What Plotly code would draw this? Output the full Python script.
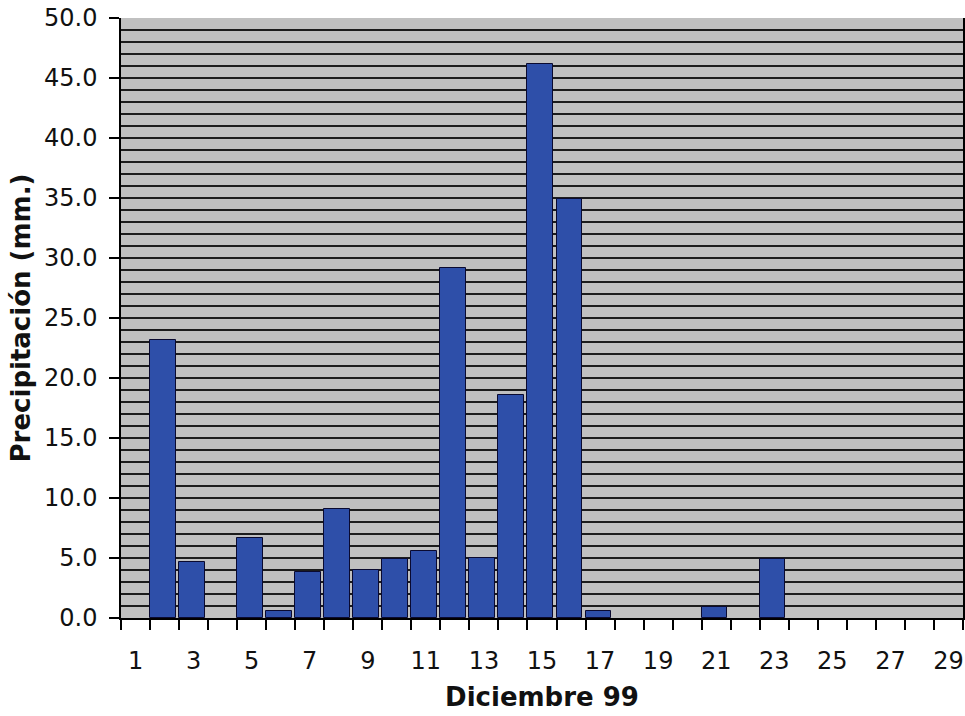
import plotly.graph_objects as go

# Daily rainfall, December 1999 (mm)
days = list(range(1, 30))
rain_mm = [0.0, 23.2, 4.7, 0.0, 6.7, 0.6, 3.8, 9.1, 4.0, 4.9,
           5.6, 29.2, 5.0, 18.6, 46.2, 34.9, 0.6, 0.0, 0.0, 0.0,
           0.9, 0.0, 4.9, 0.0, 0.0, 0.0, 0.0, 0.0, 0.0]
x_tick_days = list(range(1, 30, 2))
x_tick_labels = [str(d) for d in x_tick_days]
y_tick_vals = [0, 5, 10, 15, 20, 25, 30, 35, 40, 45, 50]

# dry days get no outline so nothing is drawn on the baseline
outline_widths = [1 if v > 0 else 0 for v in rain_mm]

fig = go.Figure(
    go.Bar(
        x=days,
        y=rain_mm,
        marker=dict(color="#2E4FA9", line=dict(color="#0a0a30", width=outline_widths)),
        width=0.88,
        offset=-0.5,
    )
)

tick_font = dict(family="DejaVu Sans", size=24, color="#111111")

fig.update_layout(
    width=965,
    height=716,
    margin=dict(l=121, r=2, t=18, b=98),
    paper_bgcolor="white",
    plot_bgcolor="#C0C0C0",
    showlegend=False,
    bargap=0,
)

fig.update_xaxes(
    range=[0.5, 29.5],
    tickmode="array",
    tickvals=x_tick_days,
    ticktext=x_tick_labels,
    ticks="outside",
    ticklen=10,
    tickcolor="rgba(0,0,0,0)",
    ticklabelstandoff=10,
    tickfont=tick_font,
    showgrid=False,
    zeroline=False,
    showline=True,
    linecolor="black",
    linewidth=1.5,
    minor=dict(ticks="outside", ticklen=10, tickcolor="black", tickwidth=1.5,
               tick0=0.5, dtick=1, showgrid=False),
    title=dict(text="<b>Diciembre 99</b>", font=dict(family="DejaVu Sans", size=26, color="#111111"),
               standoff=14),
    automargin=False,
)

fig.update_yaxes(
    range=[0, 50],
    tickmode="array",
    tickvals=y_tick_vals,
    tickformat=".1f",
    ticks="outside",
    ticklen=10,
    tickcolor="black",
    tickwidth=1.5,
    ticklabelstandoff=7,
    tickfont=tick_font,
    showgrid=True,
    gridcolor="#1c1c1c",
    gridwidth=1.5,
    zeroline=False,
    showline=True,
    linecolor="black",
    linewidth=1.5,
    mirror=True,
    minor=dict(dtick=1, tick0=0, showgrid=True, gridcolor="#1c1c1c", gridwidth=1.5),
    title=dict(text="<b>Precipitación (mm.)</b>",
               font=dict(family="DejaVu Sans", size=26, color="#111111"), standoff=6),
    automargin=False,
)

fig.write_html("out.html")
